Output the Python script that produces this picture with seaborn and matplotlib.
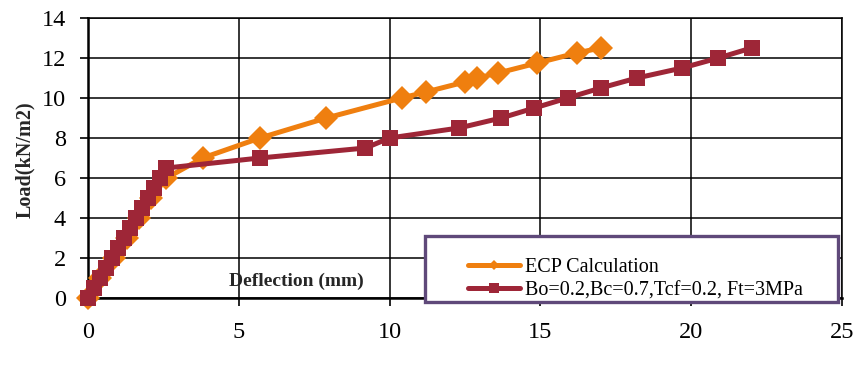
import matplotlib
matplotlib.use("Agg")
import matplotlib.pyplot as plt
from matplotlib.lines import Line2D
from matplotlib.patches import Rectangle
import seaborn as sns
import pandas as pd

# Load-deflection curves
ecp_deflection = [0, 0.4, 0.85, 1.3, 1.7, 2.1, 2.6, 3.8, 5.7, 7.9, 10.4, 11.2,
                  12.5, 12.9, 13.6, 14.9, 16.2, 17.0]
ecp_load = [0, 1, 2, 3, 4, 5, 6, 7, 8, 9, 10, 10.3, 10.8, 11, 11.25, 11.75,
            12.25, 12.5]

model_deflection = [0, 0.2, 0.4, 0.6, 0.8, 1.0, 1.2, 1.4, 1.6, 1.8, 2.0, 2.2,
                    2.4, 2.6, 5.7, 9.2, 10.0, 12.3, 13.7, 14.8, 15.9, 17.0,
                    18.2, 19.7, 20.9, 22.0]
model_load = [0, 0.5, 1, 1.5, 2, 2.5, 3, 3.5, 4, 4.5, 5, 5.5, 6, 6.5, 7, 7.5,
              8, 8.5, 9, 9.5, 10, 10.5, 11, 11.5, 12, 12.5]

series_labels = ["ECP Calculation", "Bo=0.2,Bc=0.7,Tcf=0.2, Ft=3MPa"]
x_ticks = [0, 5, 10, 15, 20, 25]
y_ticks = [0, 2, 4, 6, 8, 10, 12, 14]

ORANGE = "#EF7F0F"
CRIMSON = "#9E2637"
PURPLE = "#5F497A"

sns.set_theme(style="white")
plt.rcParams["font.family"] = ["Liberation Serif", "DejaVu Serif"]

ecp_df = pd.DataFrame({"deflection": ecp_deflection, "load": ecp_load})
model_df = pd.DataFrame({"deflection": model_deflection, "load": model_load})

fig = plt.figure(figsize=(8.58, 3.78), dpi=100)
ax = fig.add_axes([88 / 858, 1 - 298 / 378, 754 / 858, 280 / 378])

sns.lineplot(data=ecp_df, x="deflection", y="load", ax=ax, sort=False,
             estimator=None, color=ORANGE, linewidth=3.6, marker="D",
             markersize=12, markeredgewidth=0, zorder=3, clip_on=False)
sns.lineplot(data=model_df, x="deflection", y="load", ax=ax, sort=False,
             estimator=None, color=CRIMSON, linewidth=3.6, marker="s",
             markersize=12, markeredgewidth=0, zorder=4, clip_on=False)

ax.set_xlim(0, 25)
ax.set_ylim(0, 14)
ax.set_xticks(x_ticks)
ax.set_yticks(y_ticks)
ax.grid(True, color="black", linewidth=1.1)
ax.set_axisbelow(True)

for side in ["top", "right"]:
    ax.spines[side].set_visible(True)
    ax.spines[side].set_color("black")
    ax.spines[side].set_linewidth(1.1)
for side in ["left", "bottom"]:
    ax.spines[side].set_color("black")
    ax.spines[side].set_linewidth(1.8)

ax.tick_params(axis="both", which="major", direction="out", length=6,
               width=1.2, color="black", labelsize=17.5, labelcolor="black")
ax.tick_params(axis="y", pad=10, left=True)
ax.tick_params(axis="x", pad=11, bottom=True)

ax.set_xlabel("Deflection (mm)", fontsize=14, fontweight="bold")
ax.xaxis.set_label_coords(0.276, 0.058)
ax.xaxis.label.set_va("center")
ax.set_ylabel("Load(kN/m2)", fontsize=14.5, fontweight="bold")
ax.yaxis.set_label_coords(-0.083, 0.493)
ax.yaxis.label.set_va("center")

# Legend frame
ax.add_patch(Rectangle(((425 - 88) / 754, (298 - 302) / 280),
                       (838 - 425) / 754, (302 - 236) / 280,
                       transform=ax.transAxes, facecolor="white",
                       edgecolor=PURPLE, linewidth=2.4, clip_on=False,
                       zorder=5))

handles = [
    Line2D([], [], color=ORANGE, linewidth=3.6, marker="D", markersize=5,
           markeredgewidth=0),
    Line2D([], [], color=CRIMSON, linewidth=3.6, marker="s", markersize=7,
           markeredgewidth=0),
]
leg = ax.legend(handles, series_labels, loc="upper left",
                bbox_to_anchor=((468 - 88) / 754, (298 - 258) / 280),
                frameon=False, borderaxespad=0, borderpad=0,
                handlelength=2.6, handletextpad=0.22, labelspacing=0.2,
                fontsize=14.5)
leg.set_zorder(6)
for t in leg.get_texts():
    t.set_color("black")

fig.savefig("out.png", dpi=100, facecolor="white")
